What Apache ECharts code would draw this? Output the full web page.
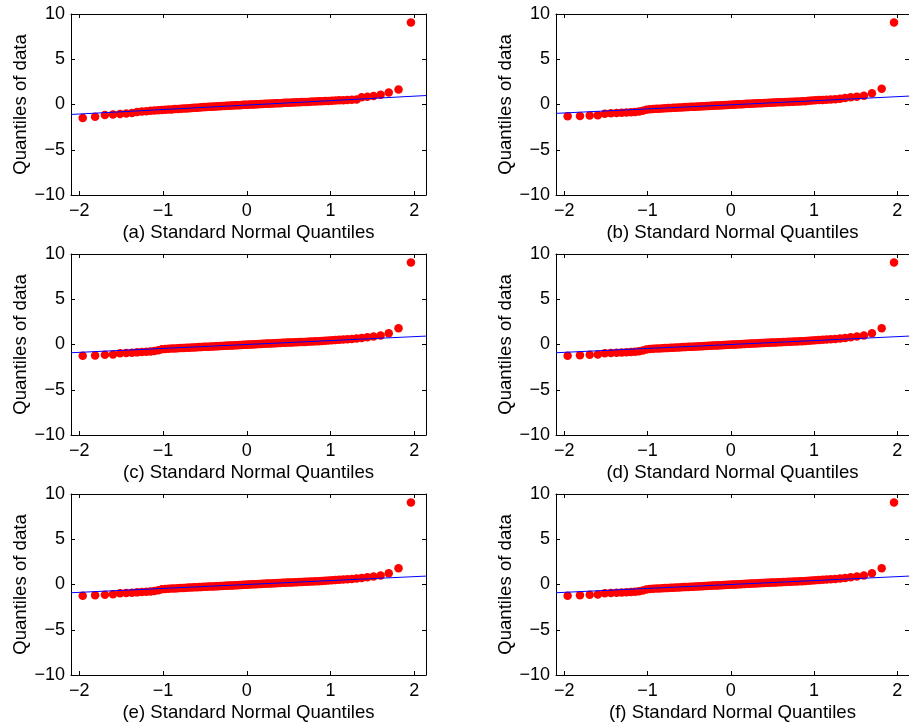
<!DOCTYPE html>
<html>
<head>
<meta charset="utf-8">
<title>Normal Q-Q plots</title>
<script src="https://cdn.jsdelivr.net/npm/echarts@6/dist/echarts.min.js"></script>
<style>
  html, body { margin: 0; padding: 0; background: #ffffff; }
  #chart { width: 909px; height: 728px; }
</style>
</head>
<body>
<div id="chart"></div>
<script>
// Theoretical standard normal quantiles, plotting positions (i-0.5)/100, i = 3..98
const normalQuantiles = [
  -1.960, -1.812, -1.695, -1.598, -1.514, -1.440, -1.372, -1.311, -1.254, -1.200, -1.150, -1.103,
  -1.058, -1.015, -0.974, -0.935, -0.896, -0.860, -0.824, -0.789, -0.755, -0.722, -0.690, -0.659,
  -0.628, -0.598, -0.568, -0.539, -0.510, -0.482, -0.454, -0.426, -0.399, -0.372, -0.345, -0.319,
  -0.292, -0.266, -0.240, -0.215, -0.189, -0.164, -0.138, -0.113, -0.088, -0.063, -0.038, -0.013,
   0.013,  0.038,  0.063,  0.088,  0.113,  0.138,  0.164,  0.189,  0.215,  0.240,  0.266,  0.292,
   0.319,  0.345,  0.372,  0.399,  0.426,  0.454,  0.482,  0.510,  0.539,  0.568,  0.598,  0.628,
   0.659,  0.690,  0.722,  0.755,  0.789,  0.824,  0.860,  0.896,  0.935,  0.974,  1.015,  1.058,
   1.103,  1.150,  1.200,  1.254,  1.311,  1.372,  1.440,  1.514,  1.598,  1.695,  1.812,  1.960
];

// Sorted sample quantiles for each panel
const dataA = [
  -1.48, -1.35, -1.15, -1.11, -1.04, -1.00, -0.93, -0.84, -0.78, -0.74, -0.70, -0.67,
  -0.64, -0.61, -0.58, -0.56, -0.54, -0.51, -0.49, -0.47, -0.45, -0.43, -0.41, -0.39,
  -0.37, -0.35, -0.33, -0.31, -0.29, -0.28, -0.26, -0.25, -0.23, -0.22, -0.20, -0.19,
  -0.17, -0.16, -0.15, -0.13, -0.12, -0.11, -0.09, -0.08, -0.07, -0.05, -0.04, -0.03,
  -0.02, -0.01,  0.00,  0.01,  0.02,  0.04,  0.05,  0.06,  0.07,  0.08,  0.09,  0.10,
   0.12,  0.13,  0.14,  0.15,  0.16,  0.18,  0.19,  0.20,  0.21,  0.23,  0.24,  0.25,
   0.27,  0.28,  0.29,  0.31,  0.32,  0.34,  0.35,  0.37,  0.39,  0.40,  0.42,  0.44,
   0.46,  0.48,  0.50,  0.53,  0.56,  0.80,  0.86,  0.94,  1.08,  1.32,  1.65,  9.05
];
const dataB = [
  -1.29, -1.28, -1.22, -1.18, -1.02, -0.98, -0.95, -0.92, -0.89, -0.86, -0.83, -0.78,
  -0.70, -0.58, -0.53, -0.50, -0.48, -0.46, -0.44, -0.42, -0.40, -0.38, -0.36, -0.35,
  -0.33, -0.32, -0.30, -0.29, -0.28, -0.26, -0.25, -0.24, -0.22, -0.21, -0.20, -0.18,
  -0.17, -0.16, -0.15, -0.13, -0.12, -0.11, -0.10, -0.08, -0.07, -0.06, -0.05, -0.03,
  -0.02, -0.01,  0.00,  0.02,  0.03,  0.04,  0.05,  0.07,  0.08,  0.09,  0.10,  0.11,
   0.13,  0.14,  0.15,  0.16,  0.17,  0.19,  0.20,  0.21,  0.22,  0.24,  0.25,  0.26,
   0.27,  0.29,  0.30,  0.31,  0.33,  0.34,  0.35,  0.37,  0.41,  0.45,  0.47,  0.49,
   0.51,  0.53,  0.56,  0.59,  0.64,  0.72,  0.79,  0.87,  0.97,  1.25,  1.73,  9.05
];
const dataC = [
  -1.25, -1.22, -1.14, -1.10, -0.97, -0.93, -0.90, -0.87, -0.84, -0.81, -0.78, -0.73,
  -0.64, -0.53, -0.49, -0.47, -0.45, -0.43, -0.41, -0.39, -0.38, -0.36, -0.35, -0.33,
  -0.32, -0.30, -0.29, -0.28, -0.26, -0.25, -0.24, -0.22, -0.21, -0.20, -0.19, -0.17,
  -0.16, -0.15, -0.14, -0.12, -0.11, -0.10, -0.09, -0.07, -0.06, -0.05, -0.04, -0.02,
  -0.01,  0.00,  0.01,  0.03,  0.04,  0.05,  0.06,  0.07,  0.09,  0.10,  0.11,  0.12,
   0.13,  0.15,  0.16,  0.17,  0.18,  0.19,  0.21,  0.22,  0.23,  0.24,  0.26,  0.27,
   0.28,  0.29,  0.31,  0.32,  0.33,  0.35,  0.36,  0.38,  0.42,  0.45,  0.47,  0.50,
   0.52,  0.54,  0.57,  0.60,  0.65,  0.72,  0.79,  0.88,  0.99,  1.25,  1.80,  9.05
];
const dataD = [
  -1.25, -1.18, -1.14, -1.10, -0.98, -0.94, -0.91, -0.88, -0.85, -0.82, -0.79, -0.74,
  -0.65, -0.54, -0.49, -0.47, -0.45, -0.43, -0.41, -0.40, -0.38, -0.36, -0.35, -0.33,
  -0.32, -0.31, -0.29, -0.28, -0.26, -0.25, -0.24, -0.22, -0.21, -0.20, -0.19, -0.17,
  -0.16, -0.15, -0.14, -0.12, -0.11, -0.10, -0.09, -0.07, -0.06, -0.05, -0.04, -0.02,
  -0.01,  0.00,  0.01,  0.03,  0.04,  0.05,  0.06,  0.08,  0.09,  0.10,  0.11,  0.12,
   0.14,  0.15,  0.16,  0.17,  0.18,  0.20,  0.21,  0.22,  0.23,  0.25,  0.26,  0.27,
   0.28,  0.30,  0.31,  0.32,  0.34,  0.35,  0.36,  0.38,  0.42,  0.45,  0.48,  0.50,
   0.52,  0.55,  0.57,  0.60,  0.65,  0.72,  0.80,  0.88,  0.99,  1.25,  1.80,  9.05
];
const dataE = [
  -1.25, -1.18, -1.14, -1.07, -0.97, -0.93, -0.90, -0.87, -0.84, -0.81, -0.78, -0.73,
  -0.64, -0.53, -0.49, -0.47, -0.45, -0.43, -0.41, -0.39, -0.38, -0.36, -0.34, -0.33,
  -0.31, -0.30, -0.29, -0.27, -0.26, -0.25, -0.23, -0.22, -0.21, -0.20, -0.18, -0.17,
  -0.16, -0.15, -0.13, -0.12, -0.11, -0.10, -0.08, -0.07, -0.06, -0.05, -0.04, -0.02,
  -0.01,  0.00,  0.02,  0.03,  0.04,  0.05,  0.06,  0.08,  0.09,  0.10,  0.11,  0.12,
   0.14,  0.15,  0.16,  0.17,  0.19,  0.20,  0.21,  0.22,  0.23,  0.25,  0.26,  0.27,
   0.28,  0.30,  0.31,  0.32,  0.33,  0.35,  0.36,  0.38,  0.42,  0.45,  0.47,  0.50,
   0.52,  0.54,  0.57,  0.60,  0.65,  0.72,  0.79,  0.88,  0.99,  1.25,  1.80,  9.05
];
const dataF = [
  -1.25, -1.18, -1.14, -1.10, -0.98, -0.94, -0.91, -0.88, -0.85, -0.82, -0.79, -0.74,
  -0.65, -0.54, -0.49, -0.47, -0.45, -0.43, -0.42, -0.40, -0.38, -0.37, -0.35, -0.33,
  -0.32, -0.31, -0.29, -0.28, -0.27, -0.25, -0.24, -0.22, -0.21, -0.20, -0.19, -0.17,
  -0.16, -0.15, -0.14, -0.12, -0.11, -0.10, -0.09, -0.07, -0.06, -0.05, -0.04, -0.02,
  -0.01,  0.00,  0.01,  0.03,  0.04,  0.05,  0.06,  0.08,  0.09,  0.10,  0.11,  0.12,
   0.14,  0.15,  0.16,  0.17,  0.18,  0.20,  0.21,  0.22,  0.23,  0.25,  0.26,  0.27,
   0.28,  0.30,  0.31,  0.32,  0.34,  0.35,  0.36,  0.38,  0.42,  0.45,  0.48,  0.50,
   0.52,  0.55,  0.57,  0.60,  0.65,  0.72,  0.80,  0.88,  0.99,  1.25,  1.80,  9.05
];

// Reference line (through the quartiles), values at the left and right plot edges
const refLineX = [-2.1, 2.14];
const refLineA = [-1.10, 0.99];
const refLineB = [-0.98, 0.93];
const refLineC = [-0.91, 0.93];
const refLineD = [-0.91, 0.93];
const refLineE = [-0.91, 0.93];
const refLineF = [-0.91, 0.93];

const panelLabels = ['(a)', '(b)', '(c)', '(d)', '(e)', '(f)'];
const xTitle = 'Standard Normal Quantiles';
const yTitle = 'Quantiles of data';
const yTicks = [-10, -5, 0, 5, 10];

const panelData = [dataA, dataB, dataC, dataD, dataE, dataF];
const panelLines = [refLineA, refLineB, refLineC, refLineD, refLineE, refLineF];

const FONT = '"Liberation Sans", Arial, Helvetica, sans-serif';
const FS = 18;
const FS_NAME = 18.6;

function fmt(v) {
  if (Math.abs(v - Math.round(v)) > 1e-9) return '';
  return v < 0 ? '\u2212' + Math.abs(v) : String(v);
}

const colLeft = [71, 556];
const rowTop = [14, 254, 494];
const plotW = 355, plotH = 181;

const grids = [], xAxes = [], yAxes = [], series = [];
const axisLineStyle = { lineStyle: { color: '#000', width: 1 } };
const tickStyle = { show: true, inside: true, length: 4, lineStyle: { color: '#000', width: 1 } };

for (let p = 0; p < 6; p++) {
  const r = Math.floor(p / 2), c = p % 2;
  grids.push({ left: colLeft[c], top: rowTop[r], width: plotW, height: plotH, containLabel: false });
  const xBase = { gridIndex: p, type: 'value', min: refLineX[0], max: refLineX[1], splitLine: { show: false },
    axisLine: Object.assign({ onZero: false }, axisLineStyle), axisTick: tickStyle };
  xAxes.push(Object.assign({}, xBase, {
    position: 'bottom',
    axisLabel: { show: true, formatter: fmt, showMinLabel: false, showMaxLabel: false,
      color: '#000', fontFamily: FONT, fontSize: FS, margin: 7 },
    name: panelLabels[p] + ' ' + xTitle, nameLocation: 'middle', nameGap: 28,
    nameTextStyle: { color: '#000', fontFamily: FONT, fontSize: FS_NAME }
  }));
  xAxes.push(Object.assign({}, xBase, { position: 'top', axisLabel: { show: false } }));
  const yBase = { gridIndex: p, type: 'value', min: yTicks[0], max: yTicks[yTicks.length - 1], interval: 5,
    splitLine: { show: false }, axisLine: Object.assign({ onZero: false }, axisLineStyle), axisTick: tickStyle };
  yAxes.push(Object.assign({}, yBase, {
    position: 'left',
    axisLabel: { show: true, formatter: fmt, color: '#000', fontFamily: FONT, fontSize: FS, margin: 6 },
    name: yTitle, nameLocation: 'middle', nameGap: 41, nameRotate: 90,
    nameTextStyle: { color: '#000', fontFamily: FONT, fontSize: FS_NAME }
  }));
  yAxes.push(Object.assign({}, yBase, { position: 'right', axisLabel: { show: false } }));

  const pts = normalQuantiles.map((q, i) => [q, panelData[p][i]]);
  series.push({
    type: 'scatter', xAxisIndex: 2 * p, yAxisIndex: 2 * p, data: pts,
    symbol: 'circle', symbolSize: 8.5, itemStyle: { color: '#ff0000', opacity: 1 },
    silent: true, animation: false, z: 2
  });
  series.push({
    type: 'line', xAxisIndex: 2 * p, yAxisIndex: 2 * p,
    data: [[refLineX[0], panelLines[p][0]], [refLineX[1], panelLines[p][1]]],
    symbol: 'none', lineStyle: { color: '#0000ff', width: 1 }, silent: true, animation: false, z: 3
  });
}

const chart = echarts.init(document.getElementById('chart'), null, { renderer: 'canvas' });
chart.setOption({
  backgroundColor: '#ffffff',
  animation: false,
  grid: grids,
  xAxis: xAxes,
  yAxis: yAxes,
  series: series
});
</script>
</body>
</html>
